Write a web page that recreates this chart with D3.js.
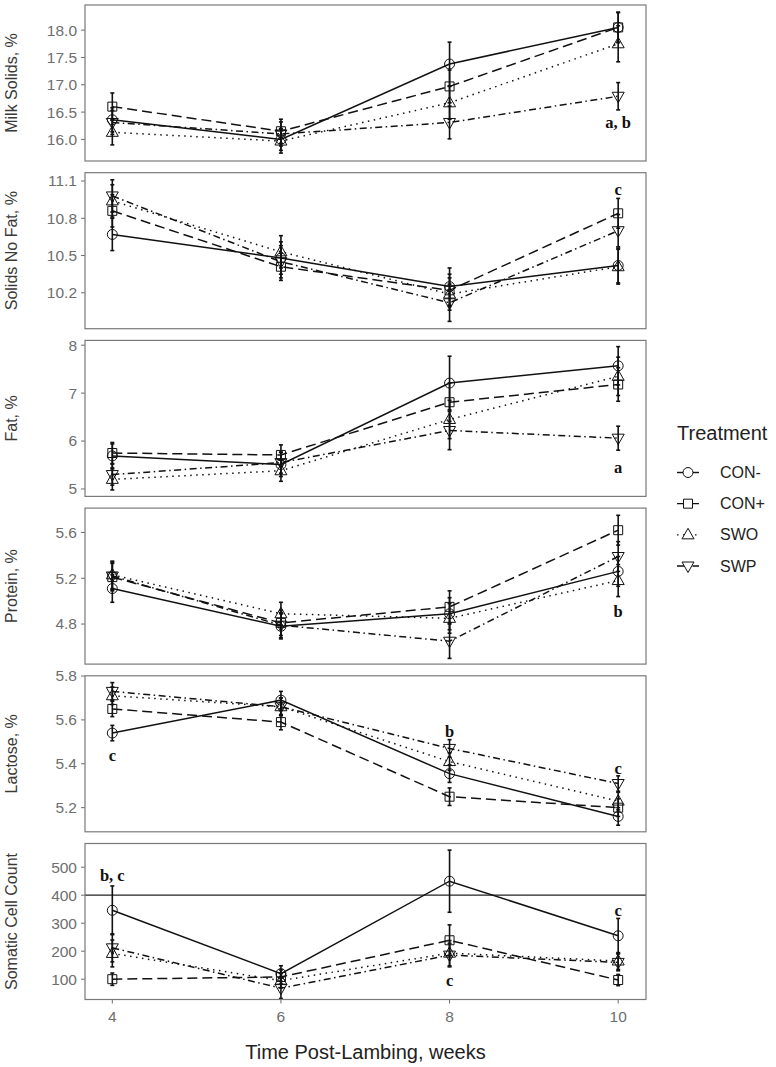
<!DOCTYPE html>
<html>
<head>
<meta charset="utf-8">
<script src="https://cdn.jsdelivr.net/npm/d3@7"></script>
<style>
  body { margin: 0; background: #fff; }
  text { font-family: "Liberation Sans", Arial, sans-serif; }
</style>
</head>
<body>
<svg id="chart" width="776" height="1067"></svg>
<script>
// weeks and treatments
const weeks = [4, 6, 8, 10];
const treatments = ["CON-", "CON+", "SWO", "SWP"];

// means per treatment (rows: CON-, CON+, SWO, SWP), SE alongside
const milkSolids = [[16.36, 16.00, 17.38, 18.05], [16.60, 16.15, 16.97, 18.05], [16.13, 15.97, 16.67, 17.75], [16.31, 16.10, 16.31, 16.79]];
const milkSolidsSE = [[0.22, 0.2, 0.4, 0.27], [0.25, 0.22, 0.3, 0.28], [0.23, 0.22, 0.3, 0.33], [0.22, 0.22, 0.3, 0.25]];

const snf = [[10.67, 10.48, 10.25, 10.42], [10.86, 10.41, 10.22, 10.84], [10.94, 10.53, 10.19, 10.41], [10.98, 10.45, 10.12, 10.70]];
const snfSE = [[0.13, 0.13, 0.15, 0.14], [0.13, 0.11, 0.13, 0.12], [0.13, 0.13, 0.13, 0.14], [0.13, 0.13, 0.15, 0.13]];

const fat = [[5.69, 5.51, 7.21, 7.57], [5.75, 5.71, 6.81, 7.18], [5.20, 5.38, 6.45, 7.35], [5.30, 5.55, 6.22, 6.06]];
const fatSE = [[0.25, 0.25, 0.56, 0.4], [0.22, 0.21, 0.4, 0.35], [0.22, 0.22, 0.4, 0.4], [0.22, 0.22, 0.4, 0.25]];

const protein = [[5.11, 4.78, 4.89, 5.26], [5.21, 4.81, 4.95, 5.62], [5.23, 4.89, 4.85, 5.18], [5.22, 4.79, 4.65, 5.39]];
const proteinSE = [[0.12, 0.11, 0.14, 0.13], [0.12, 0.11, 0.14, 0.13], [0.12, 0.1, 0.13, 0.14], [0.12, 0.11, 0.15, 0.13]];

const lactose = [[5.54, 5.69, 5.355, 5.16], [5.65, 5.59, 5.25, 5.20], [5.71, 5.66, 5.41, 5.23], [5.73, 5.66, 5.47, 5.31]];
const lactoseSE = [[0.035, 0.04, 0.04, 0.04], [0.035, 0.035, 0.04, 0.04], [0.04, 0.04, 0.04, 0.04], [0.04, 0.04, 0.04, 0.035]];

const scc = [[346, 120, 450, 255], [100, 108, 239, 97], [192, 95, 193, 165], [212, 68, 186, 160]];
const sccSE = [[87, 28, 111, 62], [22, 25, 55, 20], [48, 25, 45, 30], [50, 37, 42, 30]];

// y axis domains and tick values
const milkSolidsDomain = [15.605, 18.46], milkSolidsTicks = [16.0, 16.5, 17.0, 17.5, 18.0];
const snfDomain = [9.911, 11.167], snfTicks = [10.2, 10.5, 10.8, 11.1];
const fatDomain = [4.845, 8.10], fatTicks = [5, 6, 7, 8];
const proteinDomain = [4.45, 5.813], proteinTicks = [4.8, 5.2, 5.6];
const lactoseDomain = [5.09, 5.801], lactoseTicks = [5.2, 5.4, 5.6, 5.8];
const sccDomain = [27.5, 584.6], sccTicks = [100, 200, 300, 400, 500];

// significance letters [week, y value, text]
const milkSolidsNotes = [[10, 16.31, "a, b"]];
const snfNotes = [[10, 11.03, "c"]];
const fatNotes = [[10, 5.46, "a"]];
const proteinNotes = [[10, 4.91, "b"]];
const lactoseNotes = [[4, 5.44, "c"], [8, 5.55, "b"], [10, 5.38, "c"]];
const sccNotes = [[4, 471, "b, c"], [8, 96, "c"], [10, 346, "c"]];

const sccLimit = 400;

const panels = [
  { title: "Milk Solids, %", means: milkSolids, se: milkSolidsSE, domain: milkSolidsDomain, ticks: milkSolidsTicks, fmt: ".1f", notes: milkSolidsNotes },
  { title: "Solids No Fat, %", means: snf, se: snfSE, domain: snfDomain, ticks: snfTicks, fmt: ".1f", notes: snfNotes },
  { title: "Fat, %", means: fat, se: fatSE, domain: fatDomain, ticks: fatTicks, fmt: "d", notes: fatNotes },
  { title: "Protein, %", means: protein, se: proteinSE, domain: proteinDomain, ticks: proteinTicks, fmt: ".1f", notes: proteinNotes },
  { title: "Lactose, %", means: lactose, se: lactoseSE, domain: lactoseDomain, ticks: lactoseTicks, fmt: ".1f", notes: lactoseNotes },
  { title: "Somatic Cell Count", means: scc, se: sccSE, domain: sccDomain, ticks: sccTicks, fmt: "d", notes: sccNotes, hline: sccLimit }
];

const svg = d3.select("#chart");
const left = 85, right = 646;
const panelTop = 5, panelH = 156, panelStep = 167.7;
const tickColor = "#6e6e6e", frameColor = "#7a7a7a";

const x = d3.scaleLinear().domain([3.676, 10.33]).range([left, right]);

// line styles per treatment
const dashes = ["none", "10,5", "1.5,4.5", "7,3.5,1.5,3.5"];

// marker paths centred on 0,0
function shapePath(i) {
  if (i === 0) return d3.symbol(d3.symbolCircle, 78)();
  if (i === 1) return "M-4.5,-4.5H4.5V4.5H-4.5Z";
  if (i === 2) return "M0,-6.5L6,4L-6,4Z";
  return "M0,6.5L6,-4L-6,-4Z";
}

panels.forEach((p, pi) => {
  const top = panelTop + pi * panelStep;
  const y = d3.scaleLinear().domain(p.domain).range([top + panelH, top]);
  const g = svg.append("g");

  // y ticks + labels
  const fmt = d3.format(p.fmt);
  g.selectAll(".ytick").data(p.ticks).enter().append("line")
    .attr("x1", left - 4).attr("x2", left)
    .attr("y1", d => y(d)).attr("y2", d => y(d))
    .attr("stroke", tickColor).attr("stroke-width", 1);
  g.selectAll(".ylab").data(p.ticks).enter().append("text")
    .attr("x", left - 8).attr("y", d => y(d)).attr("dy", "0.35em")
    .attr("text-anchor", "end").attr("font-size", 15.5).attr("fill", tickColor)
    .text(d => fmt(d));

  // y title
  g.append("text")
    .attr("transform", `translate(17,${top + panelH / 2}) rotate(-90)`)
    .attr("text-anchor", "middle").attr("font-size", 16).attr("fill", "#3a3a3a")
    .text(p.title);

  if (p.hline !== undefined) {
    g.append("line")
      .attr("x1", left).attr("x2", right)
      .attr("y1", y(p.hline)).attr("y2", y(p.hline))
      .attr("stroke", "#222").attr("stroke-width", 1.3);
  }

  const line = d3.line().x((d, i) => x(weeks[i])).y(d => y(d));

  p.means.forEach((vals, ti) => {
    g.append("path")
      .attr("d", line(vals))
      .attr("fill", "none").attr("stroke", "#111").attr("stroke-width", 1.5)
      .attr("stroke-dasharray", dashes[ti]);
  });

  // error bars
  p.means.forEach((vals, ti) => {
    vals.forEach((v, wi) => {
      const cx = x(weeks[wi]), e = p.se[ti][wi];
      const y1 = y(v + e), y2 = y(v - e);
      g.append("line").attr("x1", cx).attr("x2", cx).attr("y1", y1).attr("y2", y2)
        .attr("stroke", "#111").attr("stroke-width", 1.6);
      [y1, y2].forEach(yy => g.append("line")
        .attr("x1", cx - 2).attr("x2", cx + 2).attr("y1", yy).attr("y2", yy)
        .attr("stroke", "#111").attr("stroke-width", 1.6));
    });
  });

  // markers
  p.means.forEach((vals, ti) => {
    g.selectAll(null).data(vals).enter().append("path")
      .attr("d", shapePath(ti))
      .attr("transform", (d, wi) => `translate(${x(weeks[wi])},${y(d)})`)
      .attr("fill", "none").attr("stroke", "#111").attr("stroke-width", 1);
  });

  // letters
  g.selectAll(".note").data(p.notes).enter().append("text")
    .attr("x", d => x(d[0])).attr("y", d => y(d[1])).attr("dy", "0.35em")
    .attr("text-anchor", "middle")
    .style("font-family", "'Liberation Serif', 'Times New Roman', serif")
    .attr("font-weight", "bold").attr("font-size", 16.5).attr("fill", "#111")
    .text(d => d[2]);

  // frame
  g.append("rect")
    .attr("x", left).attr("y", top).attr("width", right - left).attr("height", panelH)
    .attr("fill", "none").attr("stroke", frameColor).attr("stroke-width", 1.2);

  // x axis on the last panel
  if (pi === panels.length - 1) {
    g.selectAll(".xtick").data(weeks).enter().append("line")
      .attr("x1", d => x(d)).attr("x2", d => x(d))
      .attr("y1", top + panelH).attr("y2", top + panelH + 4)
      .attr("stroke", tickColor);
    g.selectAll(".xlab").data(weeks).enter().append("text")
      .attr("x", d => x(d)).attr("y", top + panelH + 22)
      .attr("text-anchor", "middle").attr("font-size", 15.5).attr("fill", tickColor)
      .text(d => d);
  }
});

// x axis title
svg.append("text")
  .attr("x", (left + right) / 2).attr("y", 1059)
  .attr("text-anchor", "middle").attr("font-size", 20).attr("fill", "#222")
  .text("Time Post-Lambing, weeks");

// legend
const legend = svg.append("g");
legend.append("text")
  .attr("x", 677).attr("y", 440)
  .attr("font-size", 20).attr("fill", "#222")
  .text("Treatment");
const keyY = d3.scalePoint().domain(treatments).range([472.5, 566]);
treatments.forEach((t, ti) => {
  const cy = keyY(t);
  legend.append("line")
    .attr("x1", 677).attr("x2", 699).attr("y1", cy).attr("y2", cy)
    .attr("stroke", "#111").attr("stroke-width", 1.4)
    .attr("stroke-dasharray", dashes[ti]);
  legend.append("path")
    .attr("d", shapePath(ti)).attr("transform", `translate(688,${cy})`)
    .attr("fill", "#fff").attr("stroke", "#111").attr("stroke-width", 1);
  legend.append("text")
    .attr("x", 720).attr("y", cy).attr("dy", "0.35em")
    .attr("font-size", 16).attr("fill", "#222")
    .text(t);
});
</script>
</body>
</html>
